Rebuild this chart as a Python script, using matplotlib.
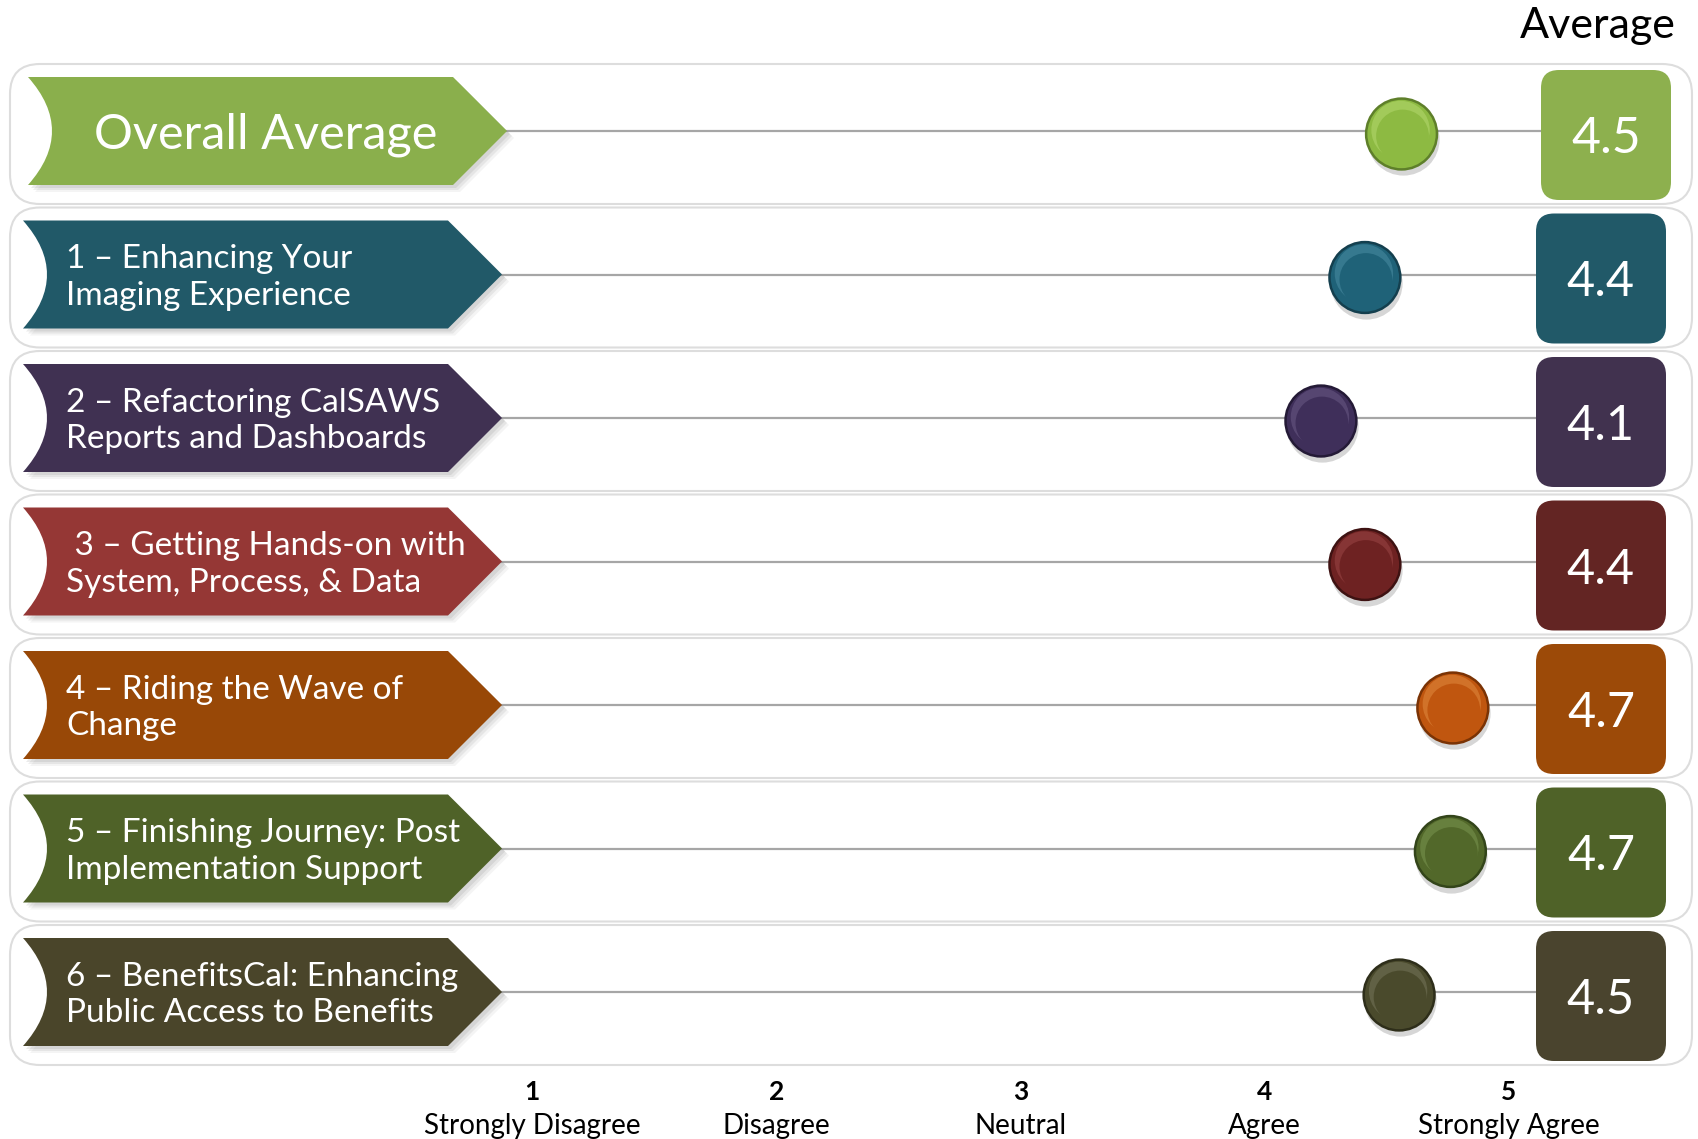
import matplotlib
matplotlib.use("Agg")
import matplotlib.pyplot as plt
from matplotlib.path import Path
from matplotlib.patches import PathPatch, FancyBboxPatch
import matplotlib.transforms as mtransforms

plt.rcParams['font.family'] = ['Lato', 'DejaVu Sans']

# data
topics = [
    "Overall Average",
    "1 \u2013 Enhancing Your\nImaging Experience",
    "2 \u2013 Refactoring CalSAWS\nReports and Dashboards",
    " 3 \u2013 Getting Hands-on with\nSystem, Process, & Data",
    "4 \u2013 Riding the Wave of\nChange",
    "5 \u2013 Finishing Journey: Post\nImplementation Support",
    "6 \u2013 BenefitsCal: Enhancing\nPublic Access to Benefits",
]
averages = [4.5, 4.4, 4.1, 4.4, 4.7, 4.7, 4.5]
# dot positions as drawn on the scale
dot_scores = [4.56, 4.41, 4.23, 4.41, 4.77, 4.76, 4.55]
scale_values = [1, 2, 3, 4, 5]
scale_names = ["Strongly Disagree", "Disagree", "Neutral", "Agree", "Strongly Agree"]

chevron_colors = ["#8AAF4C", "#215968", "#403152", "#953735", "#984807", "#4F6228", "#4A452A"]
box_colors = ["#8DB04E", "#215968", "#41324F", "#632523", "#9C4A08", "#4F6228", "#4A442E"]
dot_colors = ["#8DBA42", "#1F6278", "#3F2F5A", "#6E2222", "#C0560F", "#52682A", "#4A4A2C"]
dot_light = ["#B5D96E", "#4A8CA3", "#6A5A85", "#9A4545", "#E08A40", "#7A9450", "#75755A"]
dot_dark = ["#5E7F2A", "#143F4E", "#241A36", "#3E1212", "#7A3305", "#33451A", "#2E2E1A"]

W, H = 1698, 1139
fig = plt.figure(figsize=(W / 100, H / 100), dpi=100)
ax = fig.add_axes([0, 0, 1, 1])
ax.set_xlim(0, W)
ax.set_ylim(H, 0)
ax.axis('off')

row_y0, row_step = 131, 143.5
n = len(topics)

# data axes: x in score units, y in row index
x1_px, x5_px = 532, 1509
top_px = row_y0 - 0.5 * row_step
bot_px = row_y0 + (n - 0.5) * row_step
ax2 = fig.add_axes([x1_px / W, 1 - bot_px / H, (x5_px - x1_px) / W, (bot_px - top_px) / H])
ax2.set_xlim(1, 5)
ax2.set_ylim(n - 0.5, -0.5)
ax2.axis('off')
ax2.patch.set_alpha(0)

for i in range(n):
    cy = row_y0 + i * row_step
    dx = 5 if i == 0 else 0

    # row band
    band = FancyBboxPatch((10, cy + 3 - 70), 1682, 140,
                          boxstyle="round,pad=0,rounding_size=30",
                          facecolor="white", edgecolor="#DDDDDD", lw=1.5, zorder=1)
    ax.add_patch(band)

    # connector line
    ax.plot([500 + dx, 1540 + dx], [cy, cy], color="#A6A6A6", lw=1.6, zorder=2)

    # chevron
    left, sh, tip, hh = 23 + dx, 448 + dx, 502 + dx, 54
    verts = [(left, cy - hh), (sh, cy - hh), (tip, cy), (sh, cy + hh), (left, cy + hh),
             (left + 48, cy), (left, cy - hh), (left, cy - hh)]
    codes = [Path.MOVETO, Path.LINETO, Path.LINETO, Path.LINETO, Path.LINETO,
             Path.CURVE3, Path.CURVE3, Path.CLOSEPOLY]
    for k, a in [(7, 0.08), (5, 0.12), (3, 0.15)]:
        sv = [(x + k, y + k) for x, y in verts]
        ax.add_patch(PathPatch(Path(sv, codes), facecolor="#7F7F7F", edgecolor="none",
                               alpha=a, zorder=3))
    ax.add_patch(PathPatch(Path(verts, codes), facecolor=chevron_colors[i],
                           edgecolor="none", zorder=4))

    if i == 0:
        ax.text(266, cy + 4, topics[i], color="white", fontsize=35, ha="center",
                va="center", zorder=5)
    else:
        ax.text(66, cy + 3, topics[i], color="white", fontsize=24, ha="left", va="center",
                linespacing=1.28, zorder=5)

    # value box
    bx = 1536 + dx
    box = FancyBboxPatch((bx, cy + 4 - 65), 130, 130,
                         boxstyle="round,pad=0,rounding_size=18",
                         facecolor=box_colors[i], edgecolor="none", zorder=5)
    ax.add_patch(box)
    ax.text(bx + 65, cy + 8, f"{averages[i]:.1f}", color="white",
            fontsize=36 if i == 0 else 35, ha="center", va="center", zorder=6)

# dots on the scale
rows = list(range(n))
shadow_tr = mtransforms.offset_copy(ax2.transData, fig=fig, x=1, y=-8, units='dots')
main_tr = mtransforms.offset_copy(ax2.transData, fig=fig, x=0, y=-3, units='dots')
up_tr = mtransforms.offset_copy(ax2.transData, fig=fig, x=-1, y=1, units='dots')
down_tr = mtransforms.offset_copy(ax2.transData, fig=fig, x=1, y=-5, units='dots')
ax2.scatter(dot_scores, rows, s=52 ** 2, color="#000000", alpha=0.16, linewidths=0,
            transform=shadow_tr, zorder=3)
ax2.scatter(dot_scores, rows, s=51 ** 2, color=dot_colors, edgecolors=dot_dark,
            linewidths=1.8, transform=main_tr, zorder=4)
ax2.scatter(dot_scores, rows, s=42 ** 2, color=dot_light, alpha=0.55, linewidths=0,
            transform=up_tr, zorder=5)
ax2.scatter(dot_scores, rows, s=38 ** 2, color=dot_colors, linewidths=0,
            transform=down_tr, zorder=6)

# scale labels
lab_tr = mtransforms.blended_transform_factory(ax2.transData, ax.transData)
for v, name in zip(scale_values, scale_names):
    ax.text(v, 1092, str(v), transform=lab_tr, ha="center", va="center",
            fontsize=19, fontweight="bold", color="black")
    ax.text(v, 1126, name, transform=lab_tr, ha="center", va="center",
            fontsize=20, color="black")

ax.text(1598, 26, "Average", fontsize=31, ha="center", va="center", color="black")

fig.savefig("out.png", dpi=100)
